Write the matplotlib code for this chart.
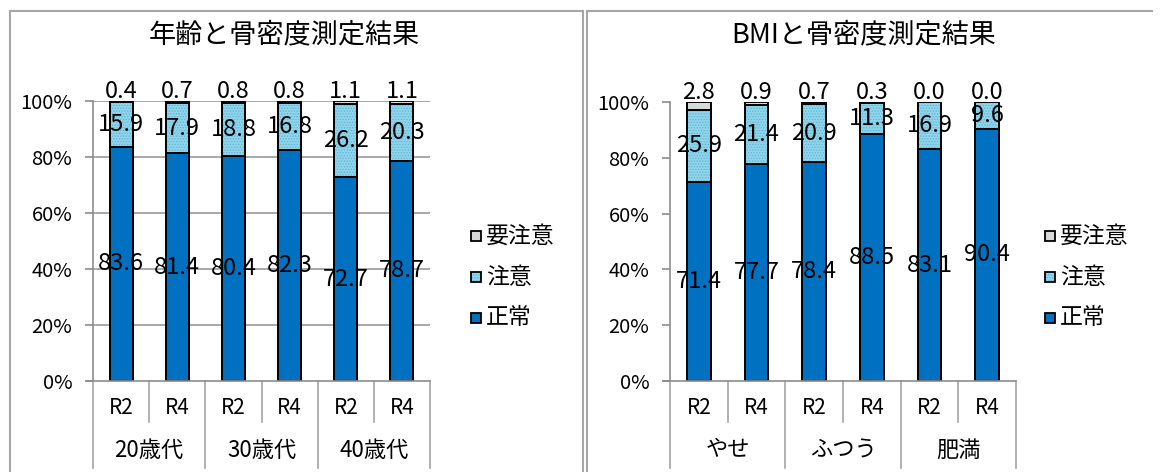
import matplotlib
matplotlib.use("Agg")
import matplotlib.pyplot as plt
from matplotlib.patches import Rectangle
from matplotlib.lines import Line2D
import matplotlib.transforms as mtransforms

plt.rcParams['font.family'] = ['Noto Sans CJK JP', 'DejaVu Sans']
plt.rcParams['hatch.linewidth'] = 0.6

# ---------------- data ----------------
title_age = "年齢と骨密度測定結果"
groups_age = ["20歳代", "30歳代", "40歳代"]
sub_labels = ["R2", "R4"]
normal_age = [83.6, 81.4, 80.4, 82.3, 72.7, 78.7]
caution_age = [15.9, 17.9, 18.8, 16.8, 26.2, 20.3]
warning_age = [0.4, 0.7, 0.8, 0.8, 1.1, 1.1]

title_bmi = "BMIと骨密度測定結果"
groups_bmi = ["やせ", "ふつう", "肥満"]
normal_bmi = [71.4, 77.7, 78.4, 88.5, 83.1, 90.4]
caution_bmi = [25.9, 21.4, 20.9, 11.3, 16.9, 9.6]
warning_bmi = [2.8, 0.9, 0.7, 0.3, 0.0, 0.0]

series_names = ["要注意", "注意", "正常"]
yticks = [0, 0.2, 0.4, 0.6, 0.8, 1.0]
ytick_labels = ["0%", "20%", "40%", "60%", "80%", "100%"]

C_NORMAL = "#0070C0"
C_CAUTION = "#8FD4EA"
C_HATCH = "#5DB6D6"
C_WARN = "#D9D9D9"
GRAY = "#8C8C8C"

W, H = 1162, 472
fig = plt.figure(figsize=(W / 100, H / 100), dpi=100)


def fx(px):
    return px / W


def fy(py):
    return (H - py) / H


# panel borders
for (x0, y0, x1, y1) in [(10, 11, 583, 11), (10, 11, 10, 472), (583, 11, 583, 472),
                         (587, 11, 1152, 11), (587, 11, 587, 472)]:
    fig.add_artist(Line2D([fx(x0), fx(x1)], [fy(y0), fy(y1)], color="#A6A6A6", lw=1.5))


def draw_chart(ax_px, title, title_x, groups, normal, caution, warning, grid, legend_x):
    x0, x1, ytop, ybot = ax_px
    ax = fig.add_axes([fx(x0), fy(ybot), fx(x1) - fx(x0), fy(ytop) - fy(ybot)])
    n = len(normal)
    pos = list(range(n))
    tot = [a + b + c for a, b, c in zip(normal, caution, warning)]
    fn = [a / t for a, t in zip(normal, tot)]
    fc = [b / t for b, t in zip(caution, tot)]
    fw = [c / t for c, t in zip(warning, tot)]
    bw = 0.41
    ax.bar(pos, fn, bw, color=C_NORMAL, edgecolor="black", lw=1.4, zorder=3)
    ax.bar(pos, fc, bw, bottom=fn, color=C_CAUTION, edgecolor=C_HATCH, hatch="......",
           lw=0, zorder=3)
    ax.bar(pos, fc, bw, bottom=fn, fill=False, edgecolor="black", lw=1.4, zorder=3)
    bw2 = [a + b for a, b in zip(fn, fc)]
    ax.bar(pos, fw, bw, bottom=bw2, color=C_WARN, edgecolor="black", lw=1.4, zorder=3)

    ax.set_xlim(-0.5, n - 0.5)
    ax.set_ylim(0, 1)
    for s in ["top", "right", "bottom"]:
        ax.spines[s].set_visible(False)
    ax.spines["left"].set_color(GRAY)
    ax.spines["left"].set_linewidth(1.2)
    ax.set_yticks(yticks)
    ax.set_yticklabels(ytick_labels, fontsize=14.5)
    ax.tick_params(axis="y", length=6, color=GRAY, width=1.2, pad=9)
    ax.set_xticks([])
    if grid:
        for yv in yticks[1:]:
            ax.axhline(yv, color="#9A9A9A", lw=1.2, zorder=1)
    trans_ax = ax.transAxes
    ax.plot([-6 / (x1 - x0), 1], [0, 0], transform=trans_ax, color=GRAY, lw=1.2,
            clip_on=False, zorder=4)

    # data labels
    lab_kw = dict(ha="center", va="center", fontsize=17, zorder=5)
    for i in pos:
        ax.text(i, fn[i] / 2, f"{normal[i]:.1f}", **lab_kw)
        ax.text(i, fn[i] + fc[i] / 2, f"{caution[i]:.1f}", **lab_kw)
        ax.text(i, 1.034, f"{warning[i]:.1f}", clip_on=False, **lab_kw)

    # multi-level category axis
    hpx = ybot - ytop
    blend = mtransforms.blended_transform_factory(ax.transData, ax.transAxes)
    for i in pos:
        ax.text(i, -27 / hpx, sub_labels[i % 2], transform=blend, ha="center",
                va="center", fontsize=15)
    for g, name in enumerate(groups):
        ax.text(2 * g + 0.5, -69 / hpx, name, transform=blend, ha="center",
                va="center", fontsize=16)
    for k in range(n + 1):
        xb = k - 0.5
        depth = 87 if k % 2 == 0 else 41
        ax.plot([xb, xb], [0, -depth / hpx], transform=blend, color="#A6A6A6",
                lw=1.2, clip_on=False)

    fig.text(fx(title_x), fy(35), title, ha="center", va="center", fontsize=19.5)

    # legend
    items = [(series_names[0], C_WARN, None), (series_names[1], C_CAUTION, "......"),
             (series_names[2], C_NORMAL, None)]
    for (name, col, hatch), ly in zip(items, [236, 277, 318]):
        sq = 10
        xy = (fx(legend_x), fy(ly + sq / 2))
        wd, ht = fx(sq), fy(0) - fy(sq)
        fig.add_artist(Rectangle(xy, wd, ht, transform=fig.transFigure, facecolor=col,
                                 edgecolor=C_HATCH if hatch else col, lw=0, hatch=hatch))
        fig.add_artist(Rectangle(xy, wd, ht, transform=fig.transFigure, fill=False,
                                 edgecolor="black", lw=1.3))
        fig.text(fx(legend_x + 15), fy(ly), name, ha="left", va="center", fontsize=16.5)
    return ax


draw_chart((93, 430, 101, 381), title_age, 284, groups_age, normal_age, caution_age,
           warning_age, True, 471)
draw_chart((670, 1016, 102, 381), title_bmi, 864, groups_bmi, normal_bmi, caution_bmi,
           warning_bmi, False, 1045)

fig.savefig("out.png", dpi=100)
